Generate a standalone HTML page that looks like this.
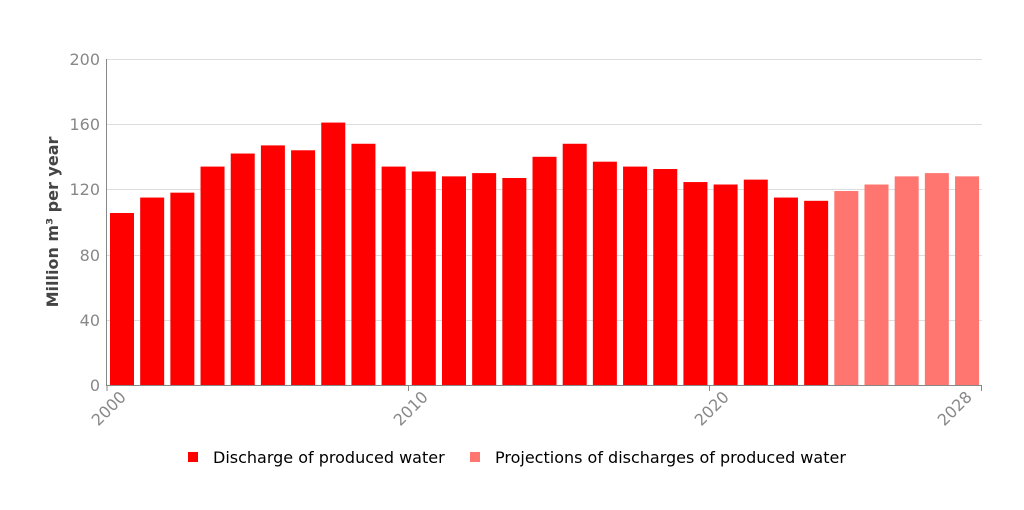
<!DOCTYPE html>
<html><head><meta charset="utf-8"><style>
html,body{margin:0;padding:0;background:#fff;}
svg{display:block;font-family:"DejaVu Sans","Liberation Sans",sans-serif;}
</style></head><body>
<svg width="1024" height="510" viewBox="0 0 1024 510" xmlns="http://www.w3.org/2000/svg">
<g stroke="#dddddd" stroke-width="1">
<line x1="107" x2="982" y1="59.5" y2="59.5"/>
<line x1="107" x2="982" y1="124.5" y2="124.5"/>
<line x1="107" x2="982" y1="189.5" y2="189.5"/>
<line x1="107" x2="982" y1="255.5" y2="255.5"/>
<line x1="107" x2="982" y1="320.5" y2="320.5"/>
</g>
<g fill="#888" font-size="16" text-anchor="end">
<text x="100" y="65">200</text>
<text x="100" y="130">160</text>
<text x="100" y="195">120</text>
<text x="100" y="261">80</text>
<text x="100" y="326">40</text>
<text x="100" y="391">0</text>
</g>
<text transform="translate(58,222) rotate(-90)" text-anchor="middle" font-size="16" font-weight="bold" fill="#444">Million m³ per year</text>
<g fill="#ff0000">
<rect x="110" y="213.0" width="24" height="172.0"/>
<rect x="140.18" y="197.55" width="24" height="187.45"/>
<rect x="170.36" y="192.66" width="24" height="192.34"/>
<rect x="200.54" y="166.58" width="24" height="218.42"/>
<rect x="230.72" y="153.54" width="24" height="231.46"/>
<rect x="260.9" y="145.39" width="24" height="239.61"/>
<rect x="291.08" y="150.28" width="24" height="234.72"/>
<rect x="321.26" y="122.57" width="24" height="262.43"/>
<rect x="351.44" y="143.76" width="24" height="241.24"/>
<rect x="381.62" y="166.58" width="24" height="218.42"/>
<rect x="411.8" y="171.47" width="24" height="213.53"/>
<rect x="441.98" y="176.36" width="24" height="208.64"/>
<rect x="472.16" y="173.1" width="24" height="211.9"/>
<rect x="502.34" y="177.99" width="24" height="207.01"/>
<rect x="532.52" y="156.8" width="24" height="228.2"/>
<rect x="562.7" y="143.76" width="24" height="241.24"/>
<rect x="592.88" y="161.69" width="24" height="223.31"/>
<rect x="623.06" y="166.58" width="24" height="218.42"/>
<rect x="653.24" y="169.02" width="24" height="215.98"/>
<rect x="683.42" y="182.06" width="24" height="202.94"/>
<rect x="713.6" y="184.51" width="24" height="200.49"/>
<rect x="743.78" y="179.62" width="24" height="205.38"/>
<rect x="773.96" y="197.55" width="24" height="187.45"/>
<rect x="804.14" y="200.81" width="24" height="184.19"/>
</g>
<g fill="#ff7570">
<rect x="834.32" y="191.03" width="24" height="193.97"/>
<rect x="864.5" y="184.51" width="24" height="200.49"/>
<rect x="894.68" y="176.36" width="24" height="208.64"/>
<rect x="924.86" y="173.1" width="24" height="211.9"/>
<rect x="955.04" y="176.36" width="24" height="208.64"/>
</g>
<line x1="106.5" x2="106.5" y1="59" y2="386" stroke="#888"/>
<line x1="106" x2="982" y1="385.5" y2="385.5" stroke="#888"/>
<g stroke="#888"><line x1="107" x2="107" y1="385" y2="391"/><line x1="408.5" x2="408.5" y1="385" y2="391"/><line x1="709.5" x2="709.5" y1="385" y2="391"/><line x1="981.5" x2="981.5" y1="385" y2="391"/></g>
<g fill="#888" font-size="16" text-anchor="end">
<text transform="translate(127,398) rotate(-45)">2000</text>
<text transform="translate(429,398) rotate(-45)">2010</text>
<text transform="translate(730,398) rotate(-45)">2020</text>
<text transform="translate(973,398) rotate(-45)">2028</text>
</g>
<rect x="188" y="452" width="10" height="10" fill="#ff0000"/>
<text x="213" y="463" font-size="16" fill="#000">Discharge of produced water</text>
<rect x="470" y="452" width="10" height="10" fill="#ff7570"/>
<text x="495" y="463" font-size="16" fill="#000">Projections of discharges of produced water</text>
</svg>
</body></html>
